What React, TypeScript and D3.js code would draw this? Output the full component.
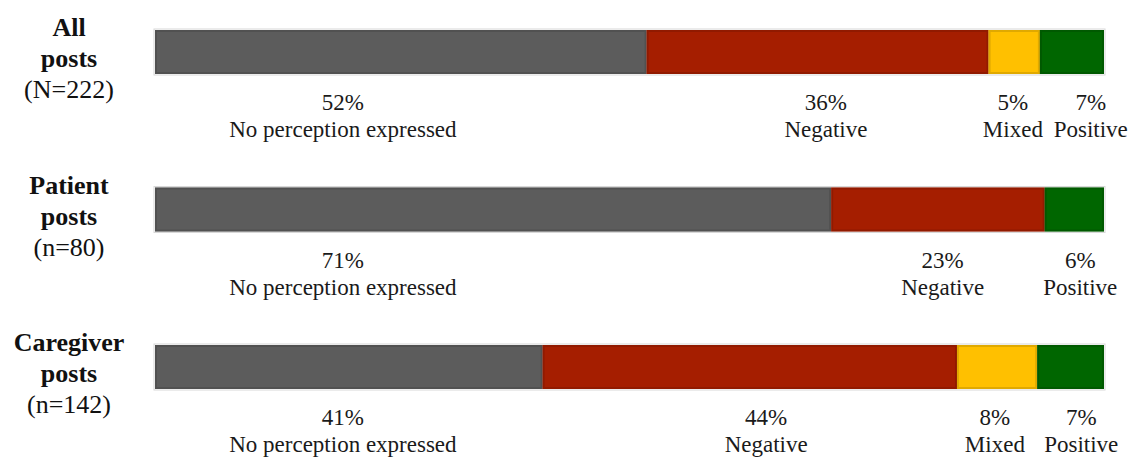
import React from "react";
import * as d3 from "d3";

// ---- data ----
const groups = ["All posts", "Patient posts", "Caregiver posts"];
const groupTitle = [
  ["All", "posts"],
  ["Patient", "posts"],
  ["Caregiver", "posts"],
];
const groupN = ["(N=222)", "(n=80)", "(n=142)"];
const categories = ["No perception expressed", "Negative", "Mixed", "Positive"];
const allCounts = [115, 80, 12, 15];
const patientCounts = [57, 18, 0, 5];
const caregiverCounts = [58, 62, 12, 10];
const countsByGroup = [allCounts, patientCounts, caregiverCounts];

// ---- layout (label anchors as share of the bar, not data) ----
const labelAnchors = [
  [0.198, 0.707, 0.904, 0.986],
  [0.198, 0.83, null, 0.975],
  [0.198, 0.644, 0.885, 0.976],
];
const colors = ["#5c5c5c", "#a51e00", "#ffc000", "#006600"];

const W = 1132;
const H = 457;
const barH = 44;
const serif = "'Liberation Serif', 'Times New Roman', serif";

export default function App() {
  const x = d3.scaleLinear().domain([0, 1]).range([155, 1104]);
  const y = d3.scalePoint<string>().domain(groups).range([30, 345]);
  const color = d3.scaleOrdinal<string, string>().domain(categories).range(colors);

  return (
    <svg
      width={W}
      height={H}
      style={{ position: "absolute", left: 0, top: 0, background: "#fff" }}
      fontFamily={serif}
    >
      {groups.map((g, gi) => {
        const counts = countsByGroup[gi];
        const total = d3.sum(counts);
        const stack: { cat: string; x0: number; x1: number; v: number }[] = [];
        let acc = 0;
        counts.forEach((c, ci) => {
          const s0 = acc / total;
          acc += c;
          stack.push({ cat: categories[ci], x0: s0, x1: acc / total, v: c / total });
        });
        const top = y(g)!;
        return (
          <g key={g}>
            <text x={69} y={top + 6} textAnchor="middle" fontSize={26} fontWeight="bold" fill="#111">
              {groupTitle[gi][0]}
            </text>
            <text x={69} y={top + 37} textAnchor="middle" fontSize={26} fontWeight="bold" fill="#111">
              {groupTitle[gi][1]}
            </text>
            <text x={69} y={top + 68} textAnchor="middle" fontSize={26} fill="#111">
              {groupN[gi]}
            </text>
            <rect
              x={x(0) - 1}
              y={top - 1}
              width={x(1) - x(0) + 2}
              height={barH + 2}
              fill="none"
              stroke="#d8d8d8"
              strokeWidth={1}
            />
            {stack
              .filter((s) => s.v > 0)
              .map((s) => {
                const c = color(s.cat);
                const dark = d3.color(c)!.darker(0.7).formatHex();
                const x0 = x(s.x0);
                const w = x(s.x1) - x0;
                return (
                  <g key={s.cat}>
                    <rect x={x0} y={top} width={w} height={barH} fill={c} />
                    <rect
                      x={x0 + 1}
                      y={top + 1}
                      width={w - 2}
                      height={barH - 2}
                      fill="none"
                      stroke={dark}
                      strokeOpacity={0.55}
                      strokeWidth={2}
                    />
                  </g>
                );
              })}
            {stack.map((s, ci) => {
              const a = labelAnchors[gi][ci];
              if (s.v <= 0 || a == null) return null;
              const lx = x(a);
              return (
                <g key={"l" + s.cat}>
                  <text x={lx} y={top + 80} textAnchor="middle" fontSize={23} fill="#1a1a1a">
                    {Math.round(s.v * 100) + "%"}
                  </text>
                  <text x={lx} y={top + 107} textAnchor="middle" fontSize={23} fill="#1a1a1a">
                    {s.cat}
                  </text>
                </g>
              );
            })}
          </g>
        );
      })}
    </svg>
  );
}
